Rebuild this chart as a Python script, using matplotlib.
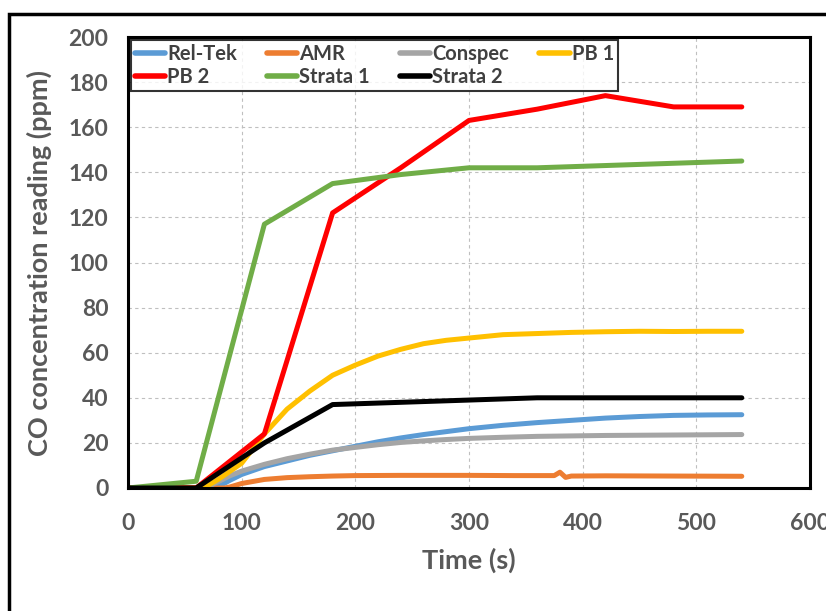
import matplotlib
matplotlib.use("Agg")
import matplotlib.pyplot as plt
from matplotlib.patches import Rectangle

plt.rcParams['font.family'] = ['Lato', 'DejaVu Sans']
plt.rcParams['font.weight'] = 'bold'

# step-shaped (manual) series
t_step = [0, 60, 120, 180, 240, 300, 360, 420, 480, 540]
pb2 = [0, 0, 24, 122, 142, 163, 168, 174, 169, 169]
strata1 = [0, 3, 117, 135, 139, 142, 142, 143, 144, 145]
strata2 = [0, 0, 20, 37, 38, 39, 40, 40, 40, 40]

# logged sensor series
t_log = [0, 60, 70, 80, 90, 100, 120, 140, 160, 180, 200, 220, 240, 260,
         280, 300, 330, 360, 390, 420, 450, 480, 510, 540]
pb1 = [0, 0, 1, 4, 7.5, 11, 24, 35, 43, 50, 54.5, 58.5, 61.5, 64,
       65.5, 66.5, 68, 68.5, 69, 69.3, 69.5, 69.4, 69.5, 69.5]
reltek = [0, 0, 0, 0.8, 3.5, 6, 9.5, 12, 14.5, 16.5, 18.5, 20.5, 22.2, 23.7,
          25, 26.3, 27.8, 29, 30, 31, 31.7, 32.2, 32.4, 32.5]
conspec = [0, 0, 0.5, 3, 5.5, 7.5, 10.5, 13, 15, 16.8, 18, 19.2, 20.2, 20.9,
           21.5, 22, 22.5, 22.9, 23.1, 23.3, 23.4, 23.5, 23.6, 23.7]

t_amr = [0, 60, 85, 90, 100, 120, 140, 160, 180, 200, 240, 300, 340, 375,
         380, 385, 390, 420, 480, 540]
amr = [0, 0, 0, 0.5, 2, 3.8, 4.6, 5, 5.3, 5.5, 5.6, 5.6, 5.5, 5.5,
       7, 4.7, 5.3, 5.4, 5.3, 5.2]

fig = plt.figure(figsize=(8.26, 6.11), dpi=100)
ax = fig.add_axes([128/826, 1-488/611, 682/826, 451/611])

lw = 3.6
kw = dict(lw=lw, solid_capstyle='round')
h_rel, = ax.plot(t_log, reltek, color='#5B9BD5', label='Rel-Tek', **kw)
h_amr, = ax.plot(t_amr, amr, color='#ED7D31', label='AMR', **kw)
h_con, = ax.plot(t_log, conspec, color='#A5A5A5', label='Conspec', **kw)
h_pb1, = ax.plot(t_log, pb1, color='#FFC000', label='PB 1', **kw)
h_pb2, = ax.plot(t_step, pb2, color='#FF0000', label='PB 2', **kw)
h_s1, = ax.plot(t_step, strata1, color='#70AD47', label='Strata 1', **kw)
h_s2, = ax.plot(t_step, strata2, color='#000000', label='Strata 2', **kw)

ax.set_xlim(0, 600)
ax.set_ylim(0, 200)
ax.set_xticks(range(0, 601, 100))
ax.set_yticks(range(0, 201, 20))
ax.grid(True, color='#BFBFBF', linestyle=(0, (3, 3)), linewidth=0.8)
ax.set_axisbelow(True)
for s in ax.spines.values():
    s.set_linewidth(2.2)
    s.set_color('black')
ax.tick_params(length=0, labelsize=16.5, labelcolor='#595959')
ax.tick_params(axis='x', pad=18)
ax.tick_params(axis='y', pad=14)
for lab in ax.get_xticklabels() + ax.get_yticklabels():
    lab.set_fontweight('bold')

ax.set_xlabel('Time (s)', fontsize=19.5, color='#595959', fontweight='bold', labelpad=10)
ax.set_ylabel('CO concentration reading (ppm)', fontsize=19.5, color='#595959',
              fontweight='bold', labelpad=12)

# row-wise legend order like the original
order = [h_rel, h_pb2, h_amr, h_s1, h_con, h_s2, h_pb1]
leg = ax.legend(handles=order, ncol=4, loc='upper left', bbox_to_anchor=(0.004, 0.994),
                handlelength=1.5, handletextpad=0.1,
                columnspacing=1.5, borderaxespad=0, borderpad=0.2,
                labelspacing=0.15, frameon=True, fancybox=False,
                prop={'weight': 'bold', 'size': 14.5})
leg.get_frame().set_edgecolor('black')
leg.get_frame().set_linewidth(1.5)
for txt in leg.get_texts():
    txt.set_color('#404040')
for ln in leg.get_lines():
    ln.set_linewidth(4)

# outer chart border (right and bottom run off the image)
fig.patches.append(Rectangle((9/826, -0.1), 1.2, 1.1 - 14/611, transform=fig.transFigure,
                             fill=False, edgecolor='black', linewidth=2.5))

fig.savefig('out.png', dpi=100)
